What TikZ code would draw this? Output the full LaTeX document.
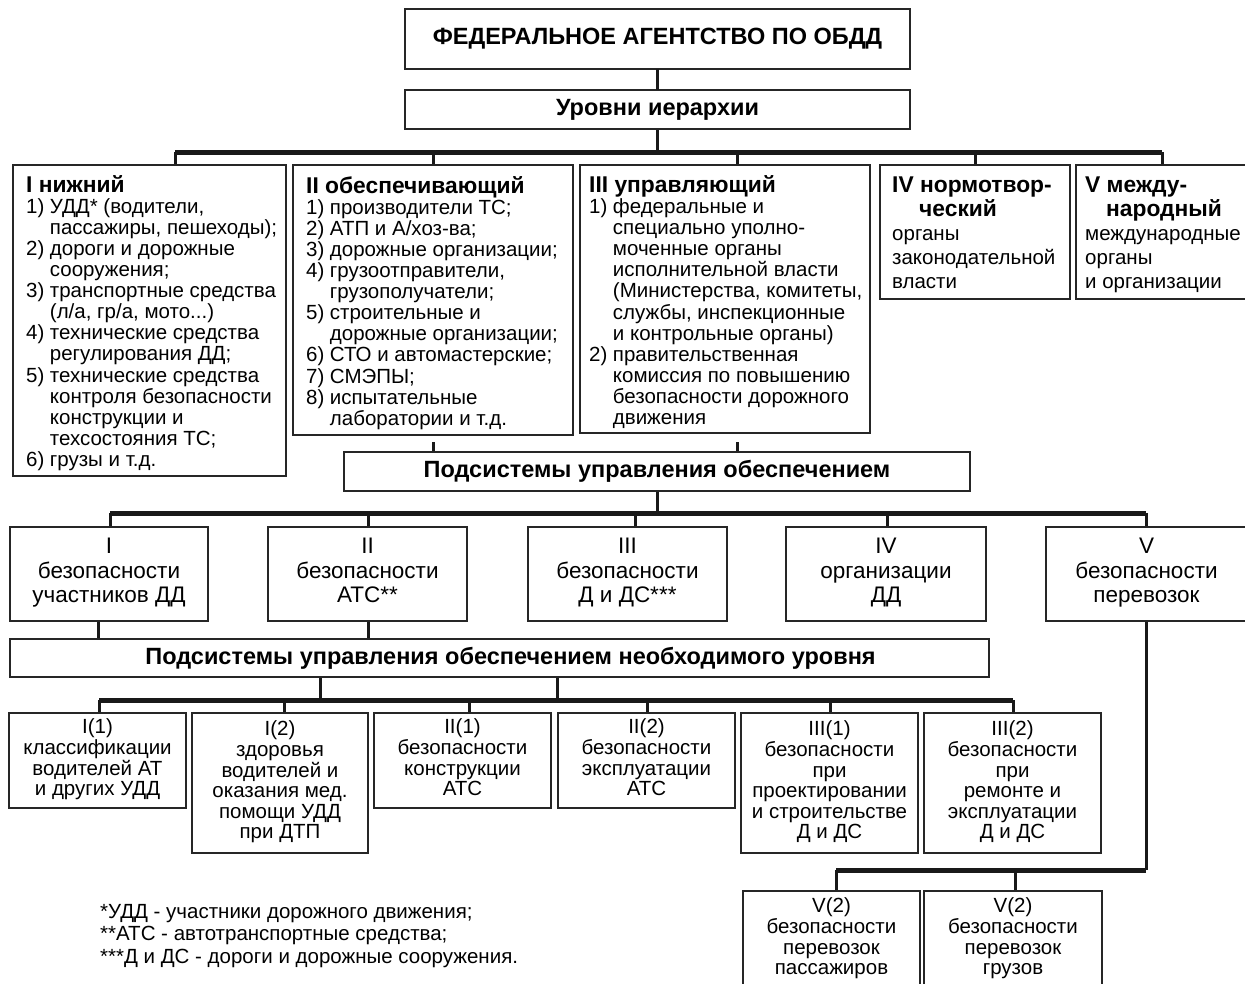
\documentclass[tikz,border=0pt]{standalone}
\usepackage{fontspec}
\setmainfont{Liberation Sans}
\newcommand\hd{\fontsize{22.8}{21}\selectfont\bfseries}
\newcommand\rbox[7][]{\node[bx,minimum width={(#5)-(#3)},minimum height={(#6)-(#4)},#1] (#2) at ({((#3)+(#5))/2},{((#4)+(#6))/2}) {#7};}
\tikzset{
  bx/.style={draw=black!85, line width=2.2pt, inner sep=0pt, outer sep=0pt, fill=white, align=center},
  conn/.style={line width=3pt, black!90},
  busln/.style={line width=5pt, black!90},
  ttl/.style={font=\fontsize{23.5}{26}\selectfont\bfseries},
  midtxt/.style={font=\fontsize{22.5}{24.5}\selectfont},
  smtxt/.style={font=\fontsize{20.5}{20.6}\selectfont},
  lvtxt/.style={inner sep=0pt, anchor=base west, font=\fontsize{20.5}{21}\selectfont},
  sdtxt/.style={inner sep=0pt, anchor=base west, font=\fontsize{20.5}{24}\selectfont},
  note/.style={inner sep=0pt, anchor=base west, font=\fontsize{20.5}{22.5}\selectfont},
}
\begin{document}
\begin{tikzpicture}[x=1pt,y=-1pt]
\useasboundingbox (0,0) rectangle (1245,983);
\clip (0,0) rectangle (1245,983);
\fill[white] (0,0) rectangle (1245,983);

% coordinates of buses
\coordinate (b1) at (657.5,152);
\coordinate (d11) at (175,152);
\coordinate (d12) at (433,152);
\coordinate (d13) at (737,152);
\coordinate (d14) at (975,152);
\coordinate (d15) at (1162,152);
\coordinate (b2) at (657,513);
\coordinate (d21) at (110,513);
\coordinate (d22) at (368,513);
\coordinate (d23) at (635,513);
\coordinate (d24) at (887,513);
\coordinate (d25) at (1146,513);
\coordinate (u1) at (98,660);
\coordinate (u2) at (368,660);
\coordinate (e1) at (320,700);
\coordinate (e2) at (557,700);
\coordinate (d31) at (99,700);
\coordinate (d32) at (284,700);
\coordinate (d33) at (469,700);
\coordinate (d34) at (647,700);
\coordinate (d35) at (830,700);
\coordinate (d36) at (1013,700);
\coordinate (vk) at (1146,870);
\coordinate (d41) at (836,870);
\coordinate (d42) at (1015,870);

% connectors (drawn first, boxes cover ends)
\draw[conn] (b1) -- (657.5,100);
\draw[busln] (d11) -- (d15);
\foreach \c in {d11,d12,d13,d14,d15} \draw[conn] (\c) -- ++(0,20);
\draw[conn] (d12) ++(0,290) -- ++(0,30);
\draw[conn] (d13) ++(0,290) -- ++(0,30);
\draw[busln] (d21) -- (d25);
\draw[conn] (b2) -- ++(0,-30);
\foreach \c in {d21,d22,d23,d24,d25} \draw[conn] (\c) -- ++(0,20);
\draw[conn] (u1) -- ++(0,-40);
\draw[conn] (u2) -- ++(0,-40);
\draw[busln] (d31) -- (d36);
\draw[conn] (e1) -- ++(0,-30);
\draw[conn] (e2) -- ++(0,-30);
\foreach \c in {d31,d32,d33,d34,d35,d36} \draw[conn] (\c) -- ++(0,20);
\draw[busln] (d41) -- (vk);
\draw[conn] (vk) -- ++(0,-260);
\draw[conn] (d41) -- ++(0,25);
\draw[conn] (d42) -- ++(0,25);

% top
\rbox[ttl]{top}{405}{9}{910}{69}{ФЕДЕРАЛЬНОЕ АГЕНТСТВО ПО ОБДД}
\rbox[ttl]{lev}{405}{90}{910}{129}{Уровни иерархии}
\draw[conn] (top.south) -- (lev.north);

% levels
\rbox{L1}{13}{165}{286}{476}{}
\rbox{L2}{293}{165}{573}{435}{}
\rbox{L3}{580}{165}{870}{433}{}
\rbox{L4}{880}{165}{1070}{299}{}
\rbox{L5}{1076}{165}{1250}{299}{}

\node[lvtxt] (t1) at (26,192) {\begin{tabular}[t]{@{}l@{\hspace{5.5pt}}l@{}}
\multicolumn{2}{@{}l@{}}{\hd I нижний}\\
1) & УДД* (водители,\\
 & пассажиры, пешеходы);\\
2) & дороги и дорожные\\
 & сооружения;\\
3) & транспортные средства\\
 & (л/а, гр/а, мото...)\\
4) & технические средства\\
 & регулирования ДД;\\
5) & технические средства\\
 & контроля безопасности\\
 & конструкции и\\
 & техсостояния ТС;\\
6) & грузы и т.д.
\end{tabular}};

\node[lvtxt] (t2) at (306,193) {\begin{tabular}[t]{@{}l@{\hspace{5.5pt}}l@{}}
\multicolumn{2}{@{}l@{}}{\hd II обеспечивающий}\\
1) & производители ТС;\\
2) & АТП и А/хоз-ва;\\
3) & дорожные организации;\\
4) & грузоотправители,\\
 & грузополучатели;\\
5) & строительные и\\
 & дорожные организации;\\
6) & СТО и автомастерские;\\
7) & СМЭПЫ;\\
8) & испытательные\\
 & лаборатории и т.д.
\end{tabular}};

\node[lvtxt] (t3) at (589,192) {\begin{tabular}[t]{@{}l@{\hspace{5.5pt}}l@{}}
\multicolumn{2}{@{}l@{}}{\hd III управляющий}\\
1) & федеральные и\\
 & специально уполно-\\
 & моченные органы\\
 & исполнительной власти\\
 & (Министерства, комитеты,\\
 & службы, инспекционные\\
 & и контрольные органы)\\
2) & правительственная\\
 & комиссия по повышению\\
 & безопасности дорожного\\
 & движения
\end{tabular}};

\node[sdtxt] (t4) at (892,192) {\begin{tabular}[t]{@{}l@{}}
{\hd IV нормотвор-}\\
\hspace*{27pt}{\hd ческий}\\
органы\\
законодательной\\
власти
\end{tabular}};
\node[sdtxt] (t5) at (1085,192) {\begin{tabular}[t]{@{}l@{}}
{\hd V между-}\\
\hspace*{21pt}{\hd народный}\\
международные\\
органы\\
и организации
\end{tabular}};

% subsystems
\rbox[ttl]{sub}{344}{452}{970}{491}{Подсистемы управления обеспечением}

\rbox[midtxt]{R1}{10}{527}{208}{621}{I\\безопасности\\участников ДД\strut}
\rbox[midtxt]{R2}{268}{527}{467}{621}{II\\безопасности\\АТС**\strut}
\rbox[midtxt]{R3}{528}{527}{727}{621}{III\\безопасности\\Д и ДС***\strut}
\rbox[midtxt]{R4}{786}{527}{986}{621}{IV\\организации\\ДД\strut}
\rbox[midtxt]{R5}{1046}{527}{1247}{621}{V\\безопасности\\перевозок\strut}

\rbox[ttl]{N}{10}{639}{989}{677}{\hspace*{22pt}Подсистемы управления обеспечением необходимого уровня}

\rbox[smtxt]{S1}{9}{713}{186}{808}{I(1)\\классификации\\водителей АТ\\и других УДД\strut}
\rbox[smtxt]{S2}{192}{713}{368}{853}{I(2)\\здоровья\\водителей и\\оказания мед.\\помощи УДД\\при ДТП\strut}
\rbox[smtxt]{S3}{374}{713}{551}{808}{II(1)\\безопасности\\конструкции\\АТС\strut}
\rbox[smtxt]{S4}{558}{713}{735}{808}{II(2)\\безопасности\\эксплуатации\\АТС\strut}
\rbox[smtxt]{S5}{741}{713}{918}{853}{III(1)\\безопасности\\при\\проектировании\\и строительстве\\Д и ДС\strut}
\rbox[smtxt]{S6}{924}{713}{1101}{853}{III(2)\\безопасности\\при\\ремонте и\\эксплуатации\\Д и ДС\strut}

\rbox[smtxt]{W1}{743}{891}{920}{988}{V(2)\\безопасности\\перевозок\\пассажиров\strut}
\rbox[smtxt]{W2}{924}{891}{1102}{988}{V(2)\\безопасности\\перевозок\\грузов\strut}

\node[note] (fn) at (100,918) {\begin{tabular}[t]{@{}l@{}}
*УДД - участники дорожного движения;\\
{}**АТС - автотранспортные средства;\\
{}***Д и ДС - дороги и дорожные сооружения.
\end{tabular}};
\end{tikzpicture}
\end{document}
